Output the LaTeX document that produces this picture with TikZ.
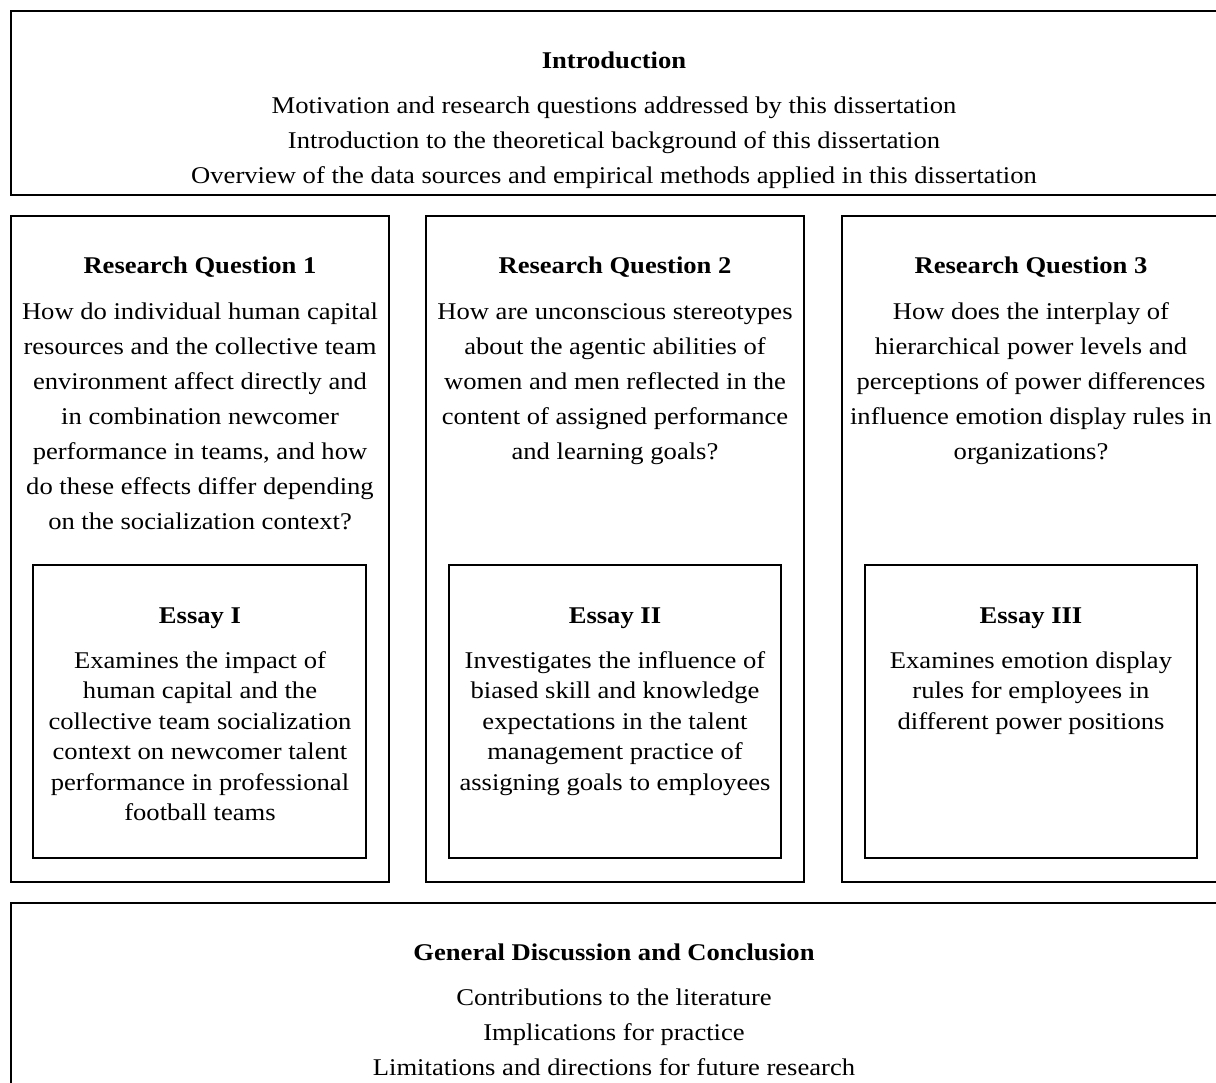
\documentclass[tikz,border=0pt]{standalone}
\usepackage{fontspec}
\setmainfont{Liberation Serif}[FakeStretch=1.108]
\begin{document}
\begin{tikzpicture}[x=0.75pt,y=-0.75pt,
  box/.style={draw=black,line width=1.5pt},
  ttl/.style={anchor=base,inner sep=0pt,font=\fontsize{18pt}{26.25pt}\selectfont\bfseries},
  bodyq/.style={anchor=north,align=center,inner sep=0pt,font=\fontsize{18pt}{26.25pt}\selectfont},
  bodye/.style={anchor=north,align=center,inner sep=0pt,font=\fontsize{18pt}{22.9pt}\selectfont}]
\useasboundingbox (0,0) rectangle (1216,1082);
\clip (0,0) rectangle (1216,1082);
% boxes
\draw[box] (11,11) rectangle (1220,195);
\draw[box] (11,216) rectangle (389,882);
\draw[box] (426,216) rectangle (804,882);
\draw[box] (842,216) rectangle (1220,882);
\draw[box] (33,565) rectangle (366,858);
\draw[box] (449,565) rectangle (781,858);
\draw[box] (865,565) rectangle (1197,858);
\draw[box] (11,903) rectangle (1220,1100);
% introduction
\node[ttl] (introT) at (614,68) {Introduction};
\node[bodyq] (introB) at (614,88.5) {\strut Motivation and research questions addressed by this dissertation\\
Introduction to the theoretical background of this dissertation\\
Overview of the data sources and empirical methods applied in this dissertation};
% research questions
\node[ttl] (rq1T) at (200,273) {Research Question 1};
\node[bodyq] (rq1B) at (200,294.5) {\strut How do individual human capital\\
resources and the collective team\\
environment affect directly and\\
in combination newcomer\\
performance in teams, and how\\
do these effects differ depending\\
on the socialization context?};
\node[ttl] (rq2T) at (615,273) {Research Question 2};
\node[bodyq] (rq2B) at (615,294.5) {\strut How are unconscious stereotypes\\
about the agentic abilities of\\
women and men reflected in the\\
content of assigned performance\\
and learning goals?};
\node[ttl] (rq3T) at (1031,273) {Research Question 3};
\node[bodyq] (rq3B) at (1031,294.5) {\strut How does the interplay of\\
hierarchical power levels and\\
perceptions of power differences\\
influence emotion display rules in\\
organizations?};
% essays
\node[ttl] (e1T) at (200,623) {Essay I};
\node[bodye] (e1B) at (200,646.6) {\strut Examines the impact of\\
human capital and the\\
collective team socialization\\
context on newcomer talent\\
performance in professional\\
football teams};
\node[ttl] (e2T) at (615,623) {Essay II};
\node[bodye] (e2B) at (615,646.6) {\strut Investigates the influence of\\
biased skill and knowledge\\
expectations in the talent\\
management practice of\\
assigning goals to employees};
\node[ttl] (e3T) at (1031,623) {Essay III};
\node[bodye] (e3B) at (1031,646.6) {\strut Examines emotion display\\
rules for employees in\\
different power positions};
% conclusion
\node[ttl] (gdT) at (614,960) {General Discussion and Conclusion};
\node[bodyq] (gdB) at (614,980.5) {\strut Contributions to the literature\\
Implications for practice\\
Limitations and directions for future research};
\end{tikzpicture}
\end{document}
